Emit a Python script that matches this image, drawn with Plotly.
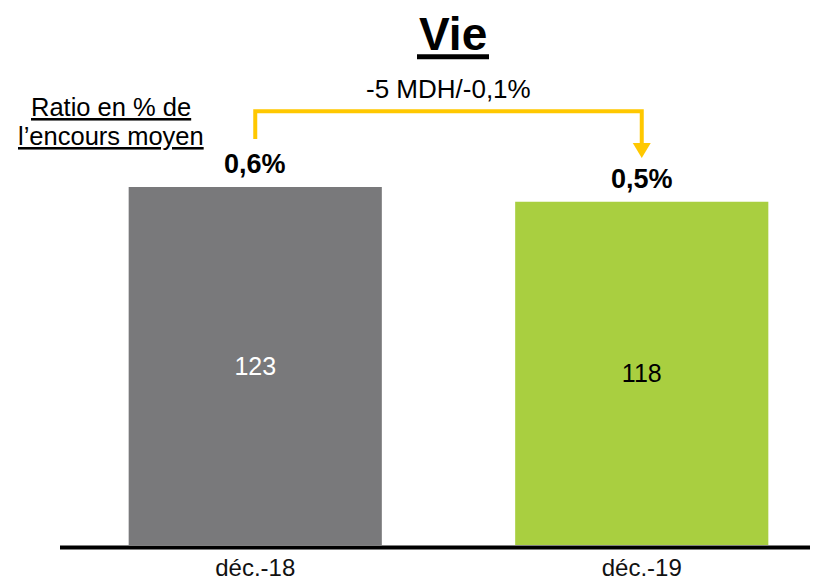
import plotly.graph_objects as go

categories = ["déc.-18", "déc.-19"]
values = [123, 118]
ratio_labels = ["0,6%", "0,5%"]
bar_colors = ["#79797B", "#A9CF40"]
inside_text_colors = ["#FFFFFF", "#000000"]
title_text = "Vie"
delta_text = "-5 MDH/-0,1%"
ratio_caption = ["Ratio en % de", "l’encours moyen"]

FONT = "Arial, Liberation Sans, sans-serif"
YELLOW = "#FFC800"

# plot area geometry (reference pixels): left 62, top 20, bottom 547 (height 527), width 756
def py(px):
    return (547 - px) / 527.0

def px_(x):
    return (x - 62) / 756.0

fig = go.Figure()
fig.add_trace(go.Bar(
    x=categories, y=values, width=0.655,
    marker=dict(color=bar_colors, line=dict(width=0)),
    text=[str(v) for v in values], textposition="inside",
    insidetextanchor="middle",
    textfont=dict(family=FONT, size=25, color=inside_text_colors),
    hoverinfo="skip",
))

annotations = [
    dict(text="<b>" + title_text + "</b>", x=px_(453), y=py(32),
         xref="paper", yref="paper", showarrow=False, xanchor="center", yanchor="middle",
         font=dict(family=FONT, size=46, color="#000000")),
    dict(text=delta_text, x=px_(449), y=py(88), xref="paper", yref="paper",
         showarrow=False, xanchor="center", yanchor="middle",
         font=dict(family=FONT, size=26, color="#000000")),
]
for line, ypx in zip(ratio_caption, [106, 135]):
    annotations.append(dict(text="<u>" + line + "</u>", x=px_(111), y=py(ypx),
                            xref="paper", yref="paper", showarrow=False,
                            xanchor="center", yanchor="middle",
                            font=dict(family=FONT, size=25.5, color="#000000")))
ratio_y_px = [163, 178]
for cat, lab, ypx in zip(categories, ratio_labels, ratio_y_px):
    annotations.append(dict(text="<b>" + lab + "</b>", x=cat, y=py(ypx), xref="x", yref="paper",
                            showarrow=False, xanchor="center", yanchor="middle",
                            font=dict(family=FONT, size=27, color="#000000")))

yl, yt, ya, ytip = py(138), py(110), py(142), py(157)
hw = 9 / 386.5
shapes = [
    dict(type="line", xref="paper", yref="paper", x0=px_(417), x1=px_(489),
         y0=py(55), y1=py(55), line=dict(color="#000000", width=5)),
    dict(type="line", xref="paper", yref="paper", x0=px_(60), x1=1,
         y0=py(549.5), y1=py(549.5), line=dict(color="#000000", width=4)),
    dict(type="path", xref="x", yref="paper",
         path=f"M 0,{yl} L 0,{yt} L 1,{yt} L 1,{ya}",
         line=dict(color=YELLOW, width=4)),
    dict(type="path", xref="x", yref="paper",
         path=f"M {1-hw},{ya} L {1+hw},{ya} L 1,{ytip} Z",
         fillcolor=YELLOW, line=dict(color=YELLOW, width=0)),
]

fig.update_layout(
    width=810, height=573,
    margin=dict(l=54, r=0, t=14, b=32),
    paper_bgcolor="white", plot_bgcolor="white",
    showlegend=False,
    annotations=annotations, shapes=shapes,
    xaxis=dict(type="category", range=[-0.5, 1.456], showgrid=False, zeroline=False,
               showline=False, ticks="", ticklabelstandoff=6,
               tickfont=dict(family=FONT, size=24, color="#111111"), fixedrange=True),
    yaxis=dict(range=[0, 527 / 2.932], visible=False, fixedrange=True),
)

fig.write_html("out.html")
